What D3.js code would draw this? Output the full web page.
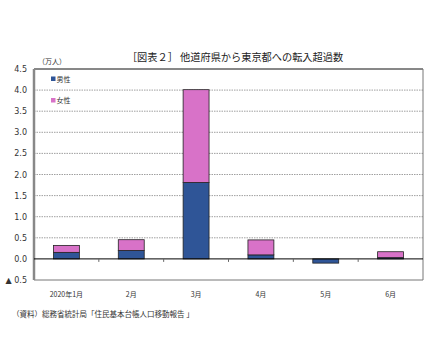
<!DOCTYPE html>
<html><head><meta charset="utf-8">
<script src="https://cdn.jsdelivr.net/npm/d3@7"></script>
<style>body{margin:0;background:#fff;}svg{display:block;font-family:"Noto Sans CJK JP","DejaVu Sans",sans-serif;}</style>
</head><body>
<script>
const categories = ["2020年1月","2月","3月","4月","5月","6月"];
const male = [0.155, 0.20, 1.81, 0.095, -0.10, 0.03];
const female = [0.165, 0.255, 2.20, 0.355, 0.0, 0.14];
const yTicks = [4.5,4.0,3.5,3.0,2.5,2.0,1.5,1.0,0.5,0.0,-0.5];
const seriesNames = ["男性","女性"];
const colors = ["#2F5597","#D872C8"];

const W=432,H=337;
const svg=d3.select("body").append("svg").attr("width",W).attr("height",H);
const L=34,R=423,T=69,B=280;
const x=d3.scaleBand().domain(categories).range([L,R]).paddingInner(0.6).paddingOuter(0.3);
const y=d3.scaleLinear().domain([-0.5,4.5]).range([B,T]);

svg.append("text").attr("x",235).attr("y",61).attr("text-anchor","middle").attr("font-size",10.2).attr("fill","#222").text("［図表２］ 他道府県から東京都への転入超過数");
svg.append("text").attr("x",38).attr("y",64).attr("font-size",7).attr("fill","#333").text("（万人）");

// grid
svg.append("g").selectAll("line").data(yTicks.filter(d=>d!==0&&d!==4.5&&d!==-0.5)).join("line")
 .attr("x1",L).attr("x2",R).attr("y1",d=>y(d)).attr("y2",d=>y(d))
 .attr("stroke","#888").attr("stroke-width",0.8).attr("stroke-dasharray","1.5,1");

// y labels
const yAxis=d3.axisLeft(y).tickValues(yTicks).tickSize(0).tickPadding(7).tickFormat(d=>d<0?"▲ "+Math.abs(d).toFixed(1):d.toFixed(1));
const ga=svg.append("g").attr("transform",`translate(${L},0)`).call(yAxis);
ga.select(".domain").remove();
ga.selectAll("text").attr("font-size",8).attr("fill","#333").attr("font-family","'DejaVu Sans',sans-serif");

// frame
svg.append("line").attr("x1",L).attr("x2",R).attr("y1",T).attr("y2",T).attr("stroke","#111").attr("stroke-width",1);
svg.append("line").attr("x1",R).attr("x2",R).attr("y1",T).attr("y2",B).attr("stroke","#777").attr("stroke-width",1);
svg.append("line").attr("x1",L).attr("x2",R).attr("y1",B).attr("y2",B).attr("stroke","#777").attr("stroke-width",1);
svg.append("line").attr("x1",L).attr("x2",L).attr("y1",T).attr("y2",B).attr("stroke","#888").attr("stroke-width",2.5);

// bars
const data=categories.map((c,i)=>({c,m:male[i],f:female[i]}));
const g=svg.append("g");
data.forEach(d=>{
  const m0=Math.min(0,d.m), m1=Math.max(0,d.m);
  g.append("rect").attr("x",x(d.c)).attr("width",x.bandwidth()).attr("y",y(m1)).attr("height",y(m0)-y(m1))
   .attr("fill",colors[0]).attr("stroke","#222").attr("stroke-width",0.8);
  if(d.f>0){
    const base=Math.max(0,d.m);
    g.append("rect").attr("x",x(d.c)).attr("width",x.bandwidth()).attr("y",y(base+d.f)).attr("height",y(base)-y(base+d.f))
     .attr("fill",colors[1]).attr("stroke","#222").attr("stroke-width",0.8);
  }
});

// zero line
svg.append("line").attr("x1",L).attr("x2",R).attr("y1",y(0)).attr("y2",y(0)).attr("stroke","#000").attr("stroke-width",1);
// x ticks at band boundaries
const step=x.step();
svg.append("g").selectAll("line").data(categories.slice(1)).join("line")
 .attr("x1",d=>x(d)-(step-x.bandwidth())/2).attr("x2",d=>x(d)-(step-x.bandwidth())/2)
 .attr("y1",y(0)).attr("y2",y(0)+3).attr("stroke","#666").attr("stroke-width",1);

// x labels
svg.append("g").selectAll("text").data(categories).join("text")
 .attr("x",d=>x(d)+x.bandwidth()/2).attr("y",297).attr("text-anchor","middle").attr("font-size",7).attr("fill","#333").text(d=>d);

// legend
seriesNames.forEach((s,i)=>{
  const ly=79+i*21.5;
  svg.append("rect").attr("x",51).attr("y",ly-2.5).attr("width",4.5).attr("height",4.5).attr("fill",colors[i]);
  svg.append("text").attr("x",56.5).attr("y",ly+2.5).attr("font-size",7).attr("fill","#333").text(s);
});

svg.append("text").attr("x",12).attr("y",317).attr("font-size",7.5).attr("fill","#333").text("（資料）総務省統計局「住民基本台帳人口移動報告 」");
</script>
</body></html>
